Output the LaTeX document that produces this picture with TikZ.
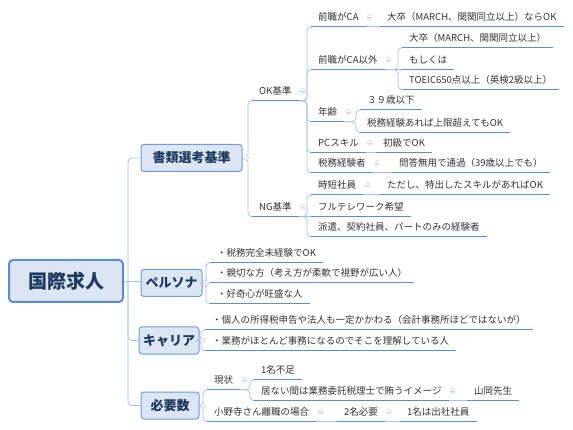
\documentclass[tikz,border=0pt]{standalone}
\usepackage{fontspec}
\setmainfont{Noto Sans CJK JP}
\usepackage{tikz}
\usetikzlibrary{positioning}

\definecolor{boxfill}{HTML}{DCE6F2}
\definecolor{boxline}{HTML}{6F9BD8}
\definecolor{rootline}{HTML}{5B8CCF}
\definecolor{connline}{HTML}{A4C3E8}
\definecolor{ulinecol}{HTML}{5B8FD3}
\definecolor{foldline}{HTML}{C3CEDB}
\definecolor{boxtext}{HTML}{1F3A5F}
\definecolor{plaintext}{HTML}{333333}

\begin{document}
\begin{tikzpicture}[x=1pt, y=-1pt,
        rootbox/.style={draw=rootline, line width=2pt, fill=boxfill, rounded corners=4pt, minimum width=114pt, minimum height=42pt, font=\fontsize{19}{22}\selectfont\bfseries, text=boxtext},
        mainbox/.style={draw=boxline, line width=1pt, fill=boxfill, rounded corners=3pt, minimum height=27pt, inner xsep=4pt, font=\fontsize{13}{15}\selectfont\bfseries, text=boxtext},
        topic/.style={anchor=west, minimum height=19pt, inner xsep=7pt, inner ysep=0pt, font=\fontsize{9.5}{11}\selectfont, text=plaintext},
        conn/.style={draw=connline, line width=0.8pt, rounded corners=4pt},
        underl/.style={draw=ulinecol, line width=1.3pt},
        fold/.style={circle, draw=foldline, fill=white, line width=0.5pt, inner sep=0pt, minimum size=5pt,
            path picture={\draw[foldline, line width=0.5pt] ([xshift=1.2pt]path picture bounding box.west) -- ([xshift=-1.2pt]path picture bounding box.east);}}
    ]
    \useasboundingbox (0,0) rectangle (573,430);

    % Centro y ramas principales
    \node[rootbox] (root) at (66,281) {国際求人};
    \node[mainbox, minimum width=101pt] (shorui) at (191.5,158) {書類選考基準};
    \node[mainbox, minimum width=61pt] (persona) at (171.5,283) {ペルソナ};
    \node[mainbox, minimum width=56pt] (career) at (169,340.5) {キャリア};
    \node[mainbox, minimum width=58pt] (hitsuyo) at (170,405.5) {必要数};
    \coordinate (trunk) at (128,281);

    % 書類選考基準
    \node[topic] (ok) at (252,91) {OK基準};
    \node[topic] (ng) at (252,207) {NG基準};
    \node[topic] (zenCA) at (311,17) {前職がCA};
    \node[topic] (zenCAigai) at (311,60) {前職がCA以外};
    \node[topic] (nenrei) at (311,112) {年齢};
    \node[topic] (pc) at (311,143) {PCスキル};
    \node[topic] (zeimu) at (311,163) {税務経験者};
    \node[topic] (jitan) at (311,185) {時短社員};
    \node[topic] (fulltele) at (311,207) {フルテレワーク希望};
    \node[topic] (haken) at (311,227) {派遣、契約社員、パートのみの経験者};
    \node[topic] (daisotsuOK) at (380,17) {大卒（MARCH、関関同立以上）ならOK};
    \node[topic] (daisotsu) at (402,38) {大卒（MARCH、関関同立以上）};
    \node[topic] (moshikuwa) at (402,60) {もしくは};
    \node[topic] (toeic) at (402,80) {TOEIC650点以上（英検2級以上）};
    \node[topic] (age) at (360,100) {３９歳以下};
    \node[topic] (zeimuari) at (360,123) {税務経験あれば上限超えてもOK};
    \node[topic] (shokyu) at (376,143) {初級でOK};
    \node[topic] (mondo) at (392,163) {問答無用で通過（39歳以上でも）};
    \node[topic] (tadashi) at (380,185) {ただし、特出したスキルがあればOK};

    % ペルソナ / キャリア
    \node[topic] (p1) at (210,253) {・税務完全未経験でOK};
    \node[topic] (p2) at (210,273) {・親切な方（考え方が柔軟で視野が広い人）};
    \node[topic] (p3) at (210,294) {・好奇心が旺盛な人};
    \node[topic] (c1) at (205,320) {・個人の所得税申告や法人も一定かかわる（会計事務所ほどではないが）};
    \node[topic] (c2) at (205,341) {・業務がほとんど事務になるのでそこを理解している人};

    % 必要数
    \node[topic] (genjo) at (207,380) {現状};
    \node[topic] (fusoku) at (254,370) {1名不足};
    \node[topic] (inai) at (254,391) {居ない間は業務委託税理士で賄うイメージ};
    \node[topic] (yamaoka) at (467,391) {山岡先生};
    \node[topic] (onodera) at (207,412) {小野寺さん離職の場合};
    \node[topic] (nimei) at (337,412) {2名必要};
    \node[topic] (shussha) at (400,412) {1名は出社社員};

    % conectores
    \draw[conn] (root.east) -- (root.east -| persona.west);
    \foreach \n in {shorui, career, hitsuyo}
        \draw[conn] (trunk) |- (\n.west);
    \foreach \p/\c in {shorui/ok, shorui/ng, persona/p1, persona/p2, persona/p3, career/c1, career/c2, hitsuyo/genjo, hitsuyo/onodera}
        \draw[conn] (\p.east) -| ([xshift=-4pt]\c.south west) -- (\c.south west);
    \foreach \p/\c in {ok/zenCA, ok/zenCAigai, ok/nenrei, ok/pc, ok/zeimu, ng/jitan, ng/haken, zenCAigai/daisotsu, zenCAigai/toeic, nenrei/age, nenrei/zeimuari, genjo/fusoku, genjo/inai}
        \draw[conn] (\p.south east) -| ([xshift=-4pt]\c.south west) -- (\c.south west);
    \foreach \p/\c in {ng/fulltele, zenCAigai/moshikuwa, zenCA/daisotsuOK, pc/shokyu, zeimu/mondo, jitan/tadashi, inai/yamaoka, onodera/nimei, nimei/shussha}
        \draw[conn] (\p.south east) -- (\c.south west);

    % subrayados
    \foreach \n in {ok, ng, zenCA, zenCAigai, nenrei, pc, zeimu, jitan, fulltele, haken, daisotsuOK, daisotsu, moshikuwa, toeic, age, zeimuari, shokyu, mondo, tadashi, p1, p2, p3, c1, c2, genjo, fusoku, inai, yamaoka, onodera, nimei, shussha}
        \draw[underl] (\n.south west) -- (\n.south east);

    % marcas de plegado
    \foreach \n in {shorui, persona, career, hitsuyo}
        \node[fold] (f-\n) at ([xshift=3.5pt]\n.east) {};
    \foreach \n in {ok, ng, zenCA, zenCAigai, nenrei, pc, zeimu, jitan, genjo, inai, onodera, nimei}
        \node[fold] (f-\n) at ([xshift=4pt]\n.east) {};
\end{tikzpicture}
\end{document}
